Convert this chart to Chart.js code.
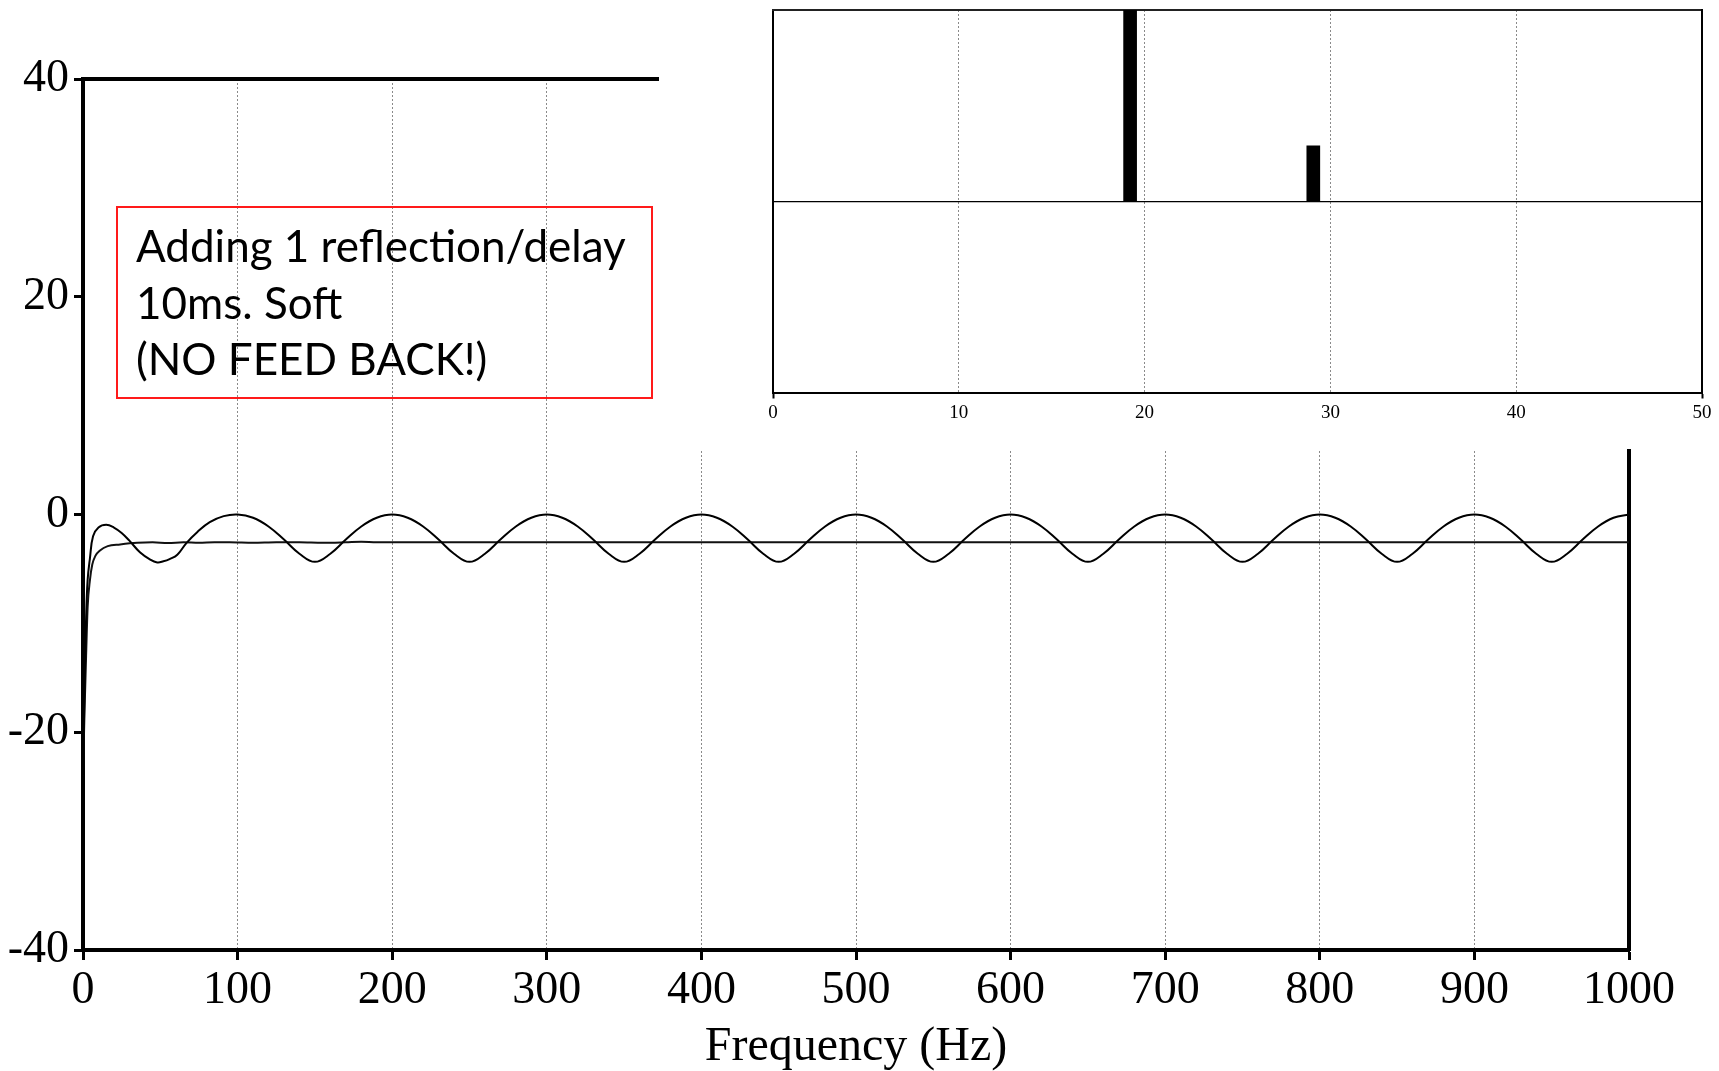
<!DOCTYPE html>
<html>
<head>
<meta charset="utf-8">
<script src="https://cdn.jsdelivr.net/npm/chart.js@4.4.1/dist/chart.umd.min.js"></script>
<style>
  html, body { margin:0; padding:0; background:#fff; }
  #wrap { position:relative; width:1719px; height:1071px; overflow:hidden; }
  #main { position:absolute; left:0; top:0; }
  #insetBox { position:absolute; left:659px; top:0; width:1060px; height:449px; background:#fff; }
  #note {
    position:absolute; left:116px; top:206px; width:537px; height:193px;
    box-sizing:border-box; border:2px solid #ff1a1a;
    padding:9px 0 0 18px;
    font-family:Lato, "Open Sans", sans-serif; font-size:44px; line-height:56.5px; color:#000;
    white-space:nowrap;
  }
</style>
</head>
<body>
<div id="wrap">
  <canvas id="main" width="1719" height="1071"></canvas>
  <div id="note">Adding 1 reflection/delay<br>10ms. Soft<br>(NO FEED BACK!)</div>
  <div id="insetBox"><canvas id="inset" width="1060" height="449"></canvas></div>
</div>
<script>
// main plot: response with one 10 ms reflection vs. direct sound (dB)
const combFreq = [
  0, 1, 2, 3, 4.5, 6.5, 10, 15, 20, 25, 30, 37, 43, 48, 52, 56, 61, 67, 74, 82, 91, 100,
  110, 120, 130, 140, 150, 160, 170, 180, 190, 200,
  210, 220, 230, 240, 250, 260, 270, 280, 290, 300,
  310, 320, 330, 340, 350, 360, 370, 380, 390, 400,
  410, 420, 430, 440, 450, 460, 470, 480, 490, 500,
  510, 520, 530, 540, 550, 560, 570, 580, 590, 600,
  610, 620, 630, 640, 650, 660, 670, 680, 690, 700,
  710, 720, 730, 740, 750, 760, 770, 780, 790, 800,
  810, 820, 830, 840, 850, 860, 870, 880, 890, 900,
  910, 920, 930, 940, 950, 960, 970, 980, 990, 1000
];
const combDb = [
  -24, -16, -9.5, -6, -4, -2, -1.2, -0.95, -1.2, -1.7, -2.4, -3.5, -4.1, -4.4, -4.3, -4.1, -3.7, -2.6, -1.6, -0.7, -0.15, 0,
  -0.3, -1.1, -2.3, -3.6, -4.35, -3.6, -2.3, -1.1, -0.3, 0,
  -0.3, -1.1, -2.3, -3.6, -4.35, -3.6, -2.3, -1.1, -0.3, 0,
  -0.3, -1.1, -2.3, -3.6, -4.35, -3.6, -2.3, -1.1, -0.3, 0,
  -0.3, -1.1, -2.3, -3.6, -4.35, -3.6, -2.3, -1.1, -0.3, 0,
  -0.3, -1.1, -2.3, -3.6, -4.35, -3.6, -2.3, -1.1, -0.3, 0,
  -0.3, -1.1, -2.3, -3.6, -4.35, -3.6, -2.3, -1.1, -0.3, 0,
  -0.3, -1.1, -2.3, -3.6, -4.35, -3.6, -2.3, -1.1, -0.3, 0,
  -0.3, -1.1, -2.3, -3.6, -4.35, -3.6, -2.3, -1.1, -0.3, 0,
  -0.3, -1.1, -2.3, -3.6, -4.35, -3.6, -2.3, -1.1, -0.3, 0
];
const flatFreq = [0, 1, 2, 3, 4.5, 6, 8, 11, 16, 24, 35, 45, 55, 65, 75, 85, 95, 110, 125, 140, 155, 170, 180, 190, 200,
  250, 300, 350, 400, 450, 500, 550, 600, 650, 700, 750, 800, 850, 900, 950, 1000];
const flatDb = [-24, -18, -13, -8.5, -6, -4.6, -3.8, -3.3, -2.9, -2.75, -2.6, -2.55, -2.62, -2.55, -2.6, -2.55, -2.55, -2.6, -2.55, -2.55, -2.6, -2.55, -2.5, -2.55, -2.55,
  -2.55, -2.55, -2.55, -2.55, -2.55, -2.55, -2.55, -2.55, -2.55, -2.55, -2.55, -2.55, -2.55, -2.55, -2.55, -2.55];

// inset: impulse response (direct + reflection), time in ms
const pulseTime = [19.22, 29.08];
const pulseAmp = [1.0, 0.29];

const serif = '"Liberation Serif", "DejaVu Serif", serif';
const pts = (xs, ys) => xs.map((x, i) => ({x, y: ys[i]}));
const plain = v => String(v);

new Chart(document.getElementById('main'), {
  type: 'line',
  data: {
    datasets: [
      {data: pts(combFreq, combDb), borderColor: '#000', borderWidth: 2, pointRadius: 0, tension: 0.4},
      {data: pts(flatFreq, flatDb), borderColor: '#111', borderWidth: 2, pointRadius: 0, cubicInterpolationMode: 'monotone'}
    ]
  },
  options: {
    responsive: false, animation: false,
    plugins: {legend: {display: false}, tooltip: {enabled: false}},
    layout: {padding: {top: 79, right: 90, left: 0, bottom: 0}},
    scales: {
      x: {
        type: 'linear', min: 0, max: 1000,
        ticks: {stepSize: 100, autoSkip: false, maxRotation: 0, color: '#000', padding: 3, font: {family: serif, size: 46}, callback: plain},
        grid: {color: '#8a8a8a', lineWidth: 1, tickColor: '#000', tickWidth: 3, tickLength: 10},
        border: {color: '#000', width: 4, dash: [2, 2]},
        title: {display: true, text: 'Frequency (Hz)', color: '#000', font: {family: serif, size: 48, lineHeight: 1.0}, padding: {top: 0, bottom: 0}},
        afterFit: s => { s.height = 121; }
      },
      y: {
        min: -40, max: 40,
        ticks: {stepSize: 20, color: '#000', padding: 5, font: {family: serif, size: 46}, callback: plain},
        grid: {drawOnChartArea: false, tickColor: '#000', tickWidth: 3, tickLength: 9},
        border: {color: '#000', width: 4},
        afterFit: s => { s.width = 83; }
      },
      x2: {
        type: 'linear', position: 'top', min: 0, max: 1000,
        ticks: {display: false}, grid: {display: false},
        border: {color: '#000', width: 4},
        afterFit: s => { s.height = 0; }
      },
      y2: {
        type: 'linear', position: 'right', min: -40, max: 40,
        ticks: {display: false}, grid: {display: false},
        border: {color: '#000', width: 4},
        afterFit: s => { s.width = 0; }
      }
    }
  }
});

new Chart(document.getElementById('inset'), {
  type: 'bar',
  data: {
    datasets: [{data: pts(pulseTime, pulseAmp), backgroundColor: '#000', borderWidth: 0, barThickness: 13}]
  },
  options: {
    responsive: false, animation: false,
    plugins: {legend: {display: false}, tooltip: {enabled: false}},
    layout: {padding: {top: 10, right: 17, left: 0, bottom: 0}},
    scales: {
      x: {
        type: 'linear', min: 0, max: 50, offset: false,
        ticks: {stepSize: 10, color: '#000', padding: 3, font: {family: serif, size: 19}, callback: plain},
        grid: {offset: false, color: '#8a8a8a', lineWidth: 1, tickLength: 6, tickWidth: 2,
               tickColor: c => (c.tick && (c.tick.value === 0 || c.tick.value === 50)) ? '#000' : 'rgba(0,0,0,0)'},
        border: {color: '#000', width: 2, dash: [2, 2]},
        afterFit: s => { s.height = 56.5; }
      },
      y: {
        min: -1, max: 1,
        ticks: {display: false, stepSize: 1},
        grid: {drawTicks: false, lineWidth: 1.2, color: c => (c.tick && c.tick.value === 0) ? '#000' : 'rgba(0,0,0,0)'},
        border: {color: '#000', width: 2},
        afterFit: s => { s.width = 114; }
      },
      x2: {
        type: 'linear', position: 'top', min: 0, max: 50,
        ticks: {display: false}, grid: {display: false},
        border: {color: '#222', width: 2},
        afterFit: s => { s.height = 0; }
      },
      y2: {
        type: 'linear', position: 'right', min: -1, max: 1,
        ticks: {display: false}, grid: {display: false},
        border: {color: '#000', width: 2},
        afterFit: s => { s.width = 0; }
      }
    }
  }
});
</script>
</body>
</html>
